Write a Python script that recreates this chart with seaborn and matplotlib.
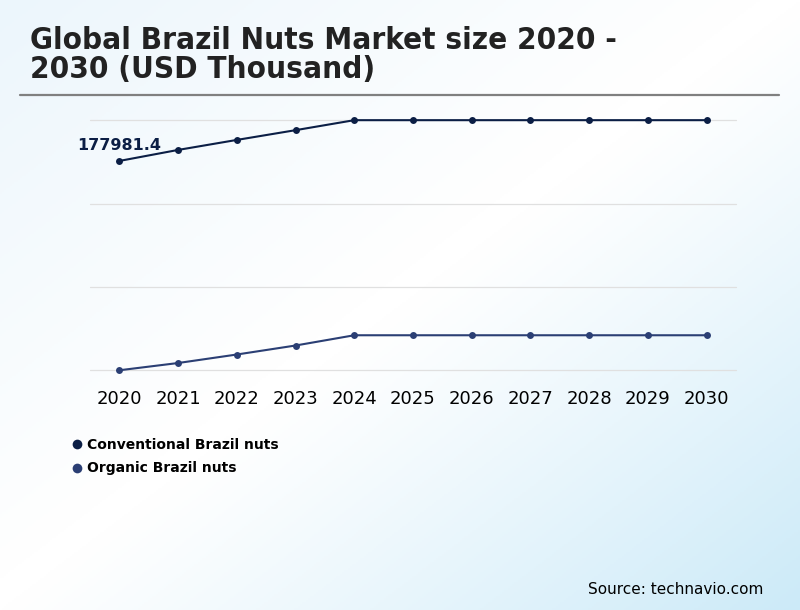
import numpy as np
import pandas as pd
import matplotlib
matplotlib.use("Agg")
import matplotlib.pyplot as plt
import seaborn as sns
from matplotlib.lines import Line2D

years = [2020, 2021, 2022, 2023, 2024, 2025, 2026, 2027, 2028, 2029, 2030]
conventional = [177981.4, 185235, 191830, 198259, 204853, 204853, 204853, 204853, 204853, 204853, 204853]
organic = [40000, 44781, 50386, 56320, 63079, 63079, 63079, 63079, 63079, 63079, 63079]
series_names = ["Conventional Brazil nuts", "Organic Brazil nuts"]
colors = ["#0b1e45", "#2b3f74"]
title = "Global Brazil Nuts Market size 2020 -\n2030 (USD Thousand)"
source = "Source: technavio.com"

df = pd.DataFrame({
    "year": years * 2,
    "value": conventional + organic,
    "series": [series_names[0]] * len(years) + [series_names[1]] * len(years),
})

sns.set_theme(style="white")
plt.rcParams["font.family"] = ["DejaVu Sans"]

fig = plt.figure(figsize=(8, 6.1), dpi=100)

# background gradient
bg = fig.add_axes([0, 0, 1, 1], zorder=-10)
h, w = 305, 400
yy, xx = np.mgrid[0:h, 0:w]
u = xx / (w - 1)
v = yy / (h - 1)
d_br = np.clip((u + v - 1.0) / 1.0, 0, 1)
d_tl = np.clip((0.95 - u - v) / 0.95, 0, 1)
white = np.array([1.0, 1.0, 1.0])
br = np.array([0xcc, 0xea, 0xf8]) / 255
tl = np.array([0xec, 0xf6, 0xfc]) / 255
img = white[None, None, :] * np.ones((h, w, 3))
img = img * (1 - d_br[..., None] ** 1.1) + br[None, None, :] * (d_br[..., None] ** 1.1)
img = img * (1 - d_tl[..., None]) + tl[None, None, :] * d_tl[..., None]
bg.imshow(img, aspect="auto", extent=[0, 1, 0, 1], origin="upper")
bg.set_axis_off()

ax = fig.add_axes([0.1125, 0.393, 0.8075, 0.41])
ax.patch.set_alpha(0)
sns.lineplot(data=df, x="year", y="value", hue="series", palette=colors,
             marker="o", markersize=5, markeredgewidth=0, linewidth=1.5,
             legend=False, ax=ax, zorder=3)
for ln in ax.lines:
    ln.set_clip_on(False)

ymin, ymax = min(organic), max(conventional)
ax.set_ylim(ymin, ymax)
ax.set_xlim(2019.5, 2030.5)
grid_vals = np.linspace(ymin, ymax, 4)
ax.set_yticks(grid_vals)
ax.set_yticklabels([])
for gv in grid_vals:
    ax.axhline(gv, color="#e0e0e0", linewidth=0.9, zorder=1, clip_on=False)
ax.set_xticks(years)
ax.set_xticklabels([str(y) for y in years], fontsize=13, color="#000000")
ax.tick_params(axis="x", length=0, pad=14)
ax.tick_params(axis="y", length=0)
ax.grid(False)
for s in ax.spines.values():
    s.set_visible(False)
ax.set_xlabel("")
ax.set_ylabel("")

ax.annotate(f"{conventional[0]}", xy=(years[0], conventional[0]), xytext=(0, 11),
            textcoords="offset points", ha="center", va="center",
            fontsize=11.5, fontweight="bold", color=colors[0])

fig.text(0.0375, 0.91, title, fontsize=22.5, fontweight="bold", fontstretch="condensed",
         color="#222222", ha="left", va="center", linespacing=1.02)
fig.add_artist(Line2D([0.025, 0.974], [0.844, 0.844], color="#808080", linewidth=1.6))

handles = [Line2D([], [], linestyle="none", marker="o", markersize=7,
                  markerfacecolor=c, markeredgewidth=0) for c in colors]
leg = fig.legend(handles, series_names, loc="upper left", bbox_to_anchor=(0.07, 0.303),
                 frameon=False, handletextpad=0.15, labelspacing=0.7,
                 prop={"size": 10, "weight": "bold"}, handlelength=1.2)
for t in leg.get_texts():
    t.set_color("#000000")

fig.text(0.954, 0.034, source, fontsize=11, ha="right", va="center", color="#000000")

fig.savefig("out.png", dpi=100)
